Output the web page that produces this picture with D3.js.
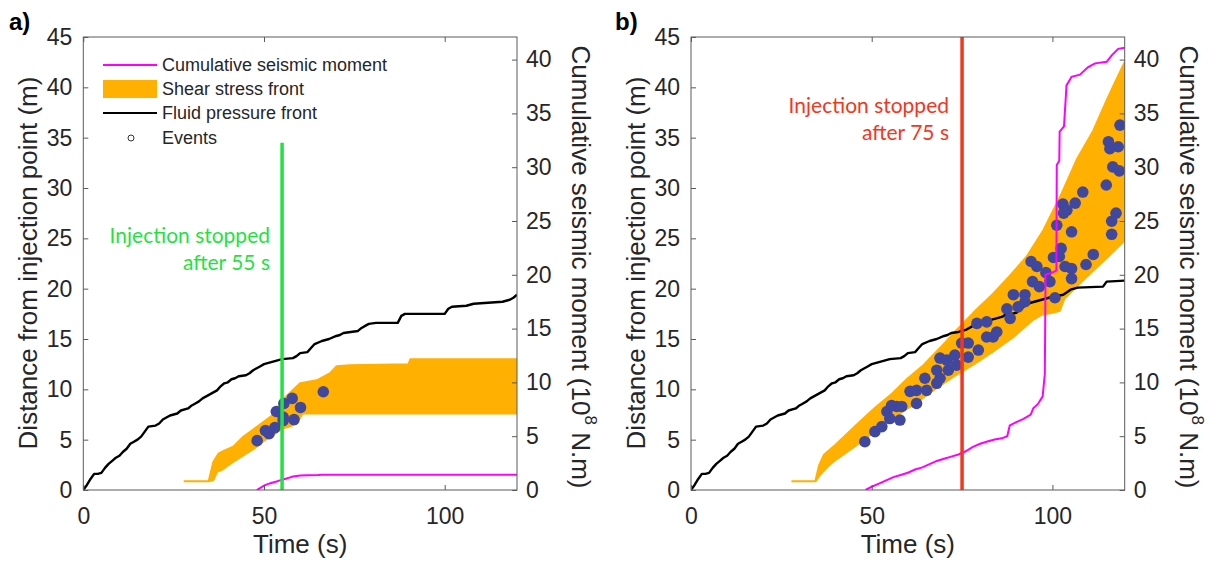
<!DOCTYPE html>
<html><head><meta charset="utf-8">
<script src="https://cdn.jsdelivr.net/npm/d3@7"></script>
<style>body{margin:0;background:#fff;} svg{display:block;}</style>
</head><body><svg id="c" width="1217" height="567"></svg>
<script>
// ---------- data ----------
const timeTicks = [0, 50, 100];
const distanceTicks = [0, 5, 10, 15, 20, 25, 30, 35, 40, 45];
const momentTicks = [0, 5, 10, 15, 20, 25, 30, 35, 40];
const legendLabels = ["Cumulative seismic moment", "Shear stress front", "Fluid pressure front", "Events"];
const annotationA = ["Injection stopped", "after 55 s"];
const annotationB = ["Injection stopped", "after 75 s"];
const stopTimeA = 55, stopTopA = 34.5;
const stopTimeB = 75, stopTopB = 45;

const fluidA = [[0,0],[1,0.5],[2,1.1],[3,1.6],[4,1.6],[5,1.7],[6,2.2],[7,2.6],[8,2.9],[9,3.2],[10,3.4],[11,3.8],[12,4.1],[13,4.6],[14,4.8],[15,5.0],[16,5.3],[17,5.8],[18,6.3],[20,6.4],[21,6.6],[22,7.0],[23,7.2],[24,7.4],[26,7.6],[27,7.9],[29,8.1],[30,8.4],[31,8.6],[32,8.8],[33,9.1],[34,9.3],[35,9.5],[36,9.7],[37,9.9],[38,10.3],[39,10.6],[40,10.7],[41,11.0],[42,11.1],[43,11.3],[45,11.4],[46,11.6],[47,11.9],[48,12.1],[49,12.3],[50,12.5],[51,12.6],[52,12.7],[53,12.8],[54,12.9],[55,13.0],[58,13.1],[59,13.3],[60,13.6],[62,13.7],[63,14.1],[64,14.5],[66,14.8],[68,15.0],[70,15.3],[71,15.4],[72,15.6],[74,15.7],[76,15.8],[77,16.1],[78,16.3],[79,16.5],[81,16.6],[87,16.6],[88,17.3],[89,17.5],[100,17.5],[101,18.0],[102,18.2],[106,18.3],[108,18.5],[112,18.6],[116,18.7],[118,18.9],[119,19.1],[120,19.4]];
const fluidB = [[0,0],[1,0.5],[2,1.1],[3,1.6],[4,1.6],[5,1.7],[6,2.2],[7,2.6],[8,2.9],[9,3.2],[10,3.4],[11,3.8],[12,4.1],[13,4.6],[14,4.8],[15,5.0],[16,5.3],[17,5.8],[18,6.3],[20,6.4],[21,6.6],[22,7.0],[23,7.2],[24,7.4],[26,7.6],[27,7.9],[29,8.1],[30,8.4],[31,8.6],[32,8.8],[33,9.1],[34,9.3],[35,9.5],[36,9.7],[37,9.9],[38,10.3],[39,10.6],[40,10.7],[41,11.0],[42,11.1],[43,11.3],[45,11.4],[46,11.6],[47,11.9],[48,12.1],[49,12.3],[50,12.5],[51,12.6],[52,12.7],[53,12.8],[54,12.9],[55,13.0],[58,13.1],[59,13.3],[60,13.6],[62,13.7],[63,14.1],[64,14.5],[66,14.8],[68,15.0],[70,15.3],[71,15.4],[72,15.6],[74,15.7],[76,15.9],[78,16.3],[79,16.6],[82,16.8],[84,17.0],[86,17.2],[87,17.4],[90,17.6],[92,18.2],[94,18.6],[96,18.8],[98,19.0],[100,19.2],[103,19.4],[105,19.9],[107,20.1],[114,20.2],[115,20.7],[120,20.8]];

const shearUpperA = [[28,0.86],[34.7,0.86],[36,2.8],[37.4,3.6],[39,3.9],[41.5,4.3],[44,5.2],[47,6.0],[50,6.8],[52.6,7.5],[55,8.9],[57,9.6],[60,10.6],[64.6,10.9],[68.3,11.6],[70.1,12.3],[73.8,12.4],[90,12.5],[90.5,13.0],[120,13.0]];
const shearLowerA = [[28,0.86],[34.7,0.86],[36,1.0],[37,1.8],[38.3,2.0],[41,2.7],[45,3.6],[48,4.3],[50,4.9],[53,5.6],[55,6.1],[57,6.3],[59,6.6],[60.5,7.5],[61,7.6],[120,7.6]];
const shearUpperB = [[28,0.86],[34.4,0.86],[35.5,2.5],[36.8,3.5],[40,4.5],[45.6,6.4],[51,8.2],[55.1,9.4],[60,11.1],[64.3,12.4],[68.9,14.1],[73.5,15.9],[78.1,17.6],[83.6,19.5],[88,21.2],[92.9,23.2],[97.5,25.8],[102.1,29.1],[106.7,32.8],[111.3,35.7],[115,38.7],[118,41],[120,42.5]];
const shearLowerB = [[28,0.86],[34.4,0.86],[35.7,1.5],[38,2.4],[40.1,3.0],[45.6,4.4],[51,5.9],[56.5,7.3],[62,8.6],[67.4,10.0],[72.8,11.3],[78.3,12.5],[83.7,13.8],[89.2,15.2],[94.6,16.9],[97,17.4],[100,17.6],[102,17.8],[103.3,19.0],[106.7,20.2],[111.3,21.8],[116,23.4],[120,24.8]];

const momentA = [[48,0],[49,0.2],[50,0.4],[51,0.55],[52,0.65],[53,0.75],[54,0.85],[55,0.95],[56,1.05],[57,1.15],[58,1.25],[59,1.3],[60,1.35],[62,1.38],[65,1.4],[66,1.42],[120,1.42]];
const momentB = [[48.3,0],[50,0.3],[52,0.6],[54,0.9],[56,1.2],[58,1.4],[60,1.6],[62,1.9],[64,2.1],[66,2.4],[68,2.7],[70,2.9],[72,3.1],[74,3.3],[76,3.6],[78,4.0],[80,4.3],[82,4.5],[84,4.7],[86,4.8],[87.5,5.0],[88.2,6.0],[90,6.3],[92,6.6],[94,7.0],[94.7,7.6],[96,8.0],[97.3,8.7],[97.9,10.8],[98.1,20.0],[100,20.2],[101.1,20.4],[101.2,30.2],[101.9,30.6],[102,33.3],[103.2,33.8],[103.9,37.6],[105.3,38.4],[107.6,38.6],[109.9,39.3],[111.8,39.65],[115,39.8],[116.4,40.4],[118.2,41.0],[120,41.1]];

const eventsA = [[48.1,4.9],[50.4,5.9],[51.4,5.6],[53,6.2],[53.4,7.8],[55.3,7.25],[55.5,8.6],[55.3,6.9],[57.8,9.1],[58.3,7.0],[60.1,8.2],[66.4,9.76]];
const eventsB = [[48.1,4.8],[50.9,5.8],[52.8,6.3],[54.2,7.8],[55.5,8.4],[55.0,7.1],[57.8,6.95],[56.9,8.3],[58.3,8.3],[60.6,9.8],[62.4,8.6],[62.4,9.9],[64.7,11.1],[65.2,9.9],[68,10.6],[68.9,11.1],[68,11.9],[68.9,13.1],[71.2,11.9],[70.8,12.9],[73,13.4],[73.5,12.4],[74.9,14.6],[76.7,14.6],[76.7,13.2],[79.1,16.55],[79.5,13.9],[81.8,16.7],[81.8,15.2],[83.6,15.2],[84.6,15.7],[87.4,18.0],[88.3,17.05],[89.2,19.4],[90.5,18.2],[92.4,19.4],[92.4,18.7],
[118.7,36.25],[115.5,34.6],[118.2,34.1],[115.9,33.9],[116.7,32.1],[118.5,31.7],[114.9,30.3],[108.4,29.6],[106.3,28.5],[102.9,28.4],[104,27.8],[103.1,27.5],[117.6,27.5],[116.4,26.7],[101.2,26.3],[105.3,25.65],[116.4,25.4],[102.4,24.0],[101.9,23.2],[111.3,23.4],[109.3,22.4],[94.1,22.7],[95.7,22.2],[103.5,22.2],[105.3,22.0],[100.3,23.1],[105.3,21.0],[98.2,21.6],[99.3,20.7],[94.5,20.7],[96.4,20.2],[100.7,19.1]];

// ---------- styles ----------
const ORANGE = "#ffb000", MAGENTA = "#ff00ff", DOT = "#3f479e";
const GREEN = "#1fe33f", RED = "#f4361c";
const SANS = "'Liberation Sans', Arial, Helvetica, sans-serif";
const TEXT = "#262626";
const svg = d3.select("#c");
svg.append("rect").attr("width",1217).attr("height",567).attr("fill","#fff");

function drawPanel(cfg) {
  const top = 37, bottom = 490;
  const x = d3.scaleLinear().domain([0,120]).range([cfg.left, cfg.right]);
  const y = d3.scaleLinear().domain([0,45]).range([bottom, top]);
  const yR = d3.scaleLinear().domain([0,42.1]).range([bottom, top]);
  const g = svg.append("g");
  const clipId = "clip" + cfg.id;
  svg.append("clipPath").attr("id", clipId).append("rect")
    .attr("x", cfg.left).attr("y", top).attr("width", cfg.right-cfg.left).attr("height", bottom-top);
  const plot = g.append("g").attr("clip-path", `url(#${clipId})`);

  const poly = cfg.upper.concat(cfg.lower.slice().reverse());
  plot.append("path")
    .attr("d", d3.line().x(d=>x(d[0])).y(d=>y(d[1]))(poly) + "Z")
    .attr("fill", ORANGE).attr("stroke", ORANGE).attr("stroke-width", 2).attr("stroke-linejoin","round");

  plot.append("path")
    .attr("d", d3.line().x(d=>x(d[0])).y(d=>y(d[1]))(cfg.fluid))
    .attr("fill","none").attr("stroke","#000").attr("stroke-width",2.4).attr("stroke-linejoin","round");

  plot.selectAll("circle.ev").data(cfg.events).enter().append("circle")
    .attr("cx", d=>x(d[0])).attr("cy", d=>y(d[1])).attr("r", 5.8).attr("fill", DOT);

  plot.append("path")
    .attr("d", d3.line().x(d=>x(d[0])).y(d=>yR(d[1]))(cfg.moment))
    .attr("fill","none").attr("stroke",MAGENTA).attr("stroke-width",2);

  g.append("line").attr("x1", x(cfg.stopT)).attr("x2", x(cfg.stopT))
    .attr("y1", y(0)).attr("y2", y(cfg.stopTop))
    .attr("stroke", cfg.stopColor).attr("stroke-width", 3.5);
  const ann = g.append("text").attr("font-family","Lato, 'Open Sans', sans-serif").attr("font-size",21)
    .attr("fill", cfg.stopColor).attr("text-anchor","end");
  cfg.annotation.forEach((s,i)=>{
    ann.append("tspan").attr("x", cfg.annX).attr("y", cfg.annY + i*26.5).text(s);
  });

  g.append("rect").attr("x", cfg.left).attr("y", top).attr("width", cfg.right-cfg.left).attr("height", bottom-top)
    .attr("fill","none").attr("stroke","#5a5a5a").attr("stroke-width",1);

  function style(sel){
    sel.select(".domain").remove();
    sel.selectAll(".tick line").attr("stroke","#5a5a5a");
    sel.selectAll(".tick text").attr("fill",TEXT).attr("font-family",SANS).attr("font-size",23);
  }
  g.append("g").attr("transform",`translate(${cfg.left},0)`)
    .call(d3.axisLeft(y).tickValues(distanceTicks).tickSize(-5).tickPadding(11)).call(style);
  g.append("g").attr("transform",`translate(${cfg.right},0)`)
    .call(d3.axisRight(yR).tickValues(momentTicks).tickSize(-5).tickPadding(9)).call(style);
  g.append("g").attr("transform",`translate(0,${bottom})`)
    .call(d3.axisBottom(x).tickValues(timeTicks).tickSize(-5).tickPadding(18)).call(style);
  g.append("g").attr("transform",`translate(0,${top})`)
    .call(d3.axisTop(x).tickValues(timeTicks).tickSize(-5).tickFormat("")).call(style);

  g.append("text").attr("x",(cfg.left+cfg.right)/2).attr("y",553).attr("text-anchor","middle")
    .attr("font-family",SANS).attr("font-size",26).attr("fill",TEXT).text("Time (s)");
  g.append("text").attr("transform",`translate(${cfg.left-55},${263}) rotate(-90)`).attr("text-anchor","middle")
    .attr("dy","0.35em").attr("font-family",SANS).attr("font-size",26).attr("fill",TEXT)
    .text("Distance from injection point (m)");
  const rt = g.append("text").attr("transform",`translate(${cfg.right+64},${267}) rotate(90)`).attr("text-anchor","middle")
    .attr("dy","0.35em").attr("font-family",SANS).attr("font-size",26).attr("fill",TEXT);
  rt.append("tspan").text("Cumulative seismic moment (10");
  rt.append("tspan").attr("font-size",17).attr("dy","-0.75em").text("8");
  rt.append("tspan").attr("dy","0.48em").text(" N.m)");

  g.append("text").attr("x", cfg.labelX).attr("y", 30).attr("font-family",SANS).attr("font-weight","bold")
    .attr("font-size",24).attr("fill","#000").text(cfg.label);
}

drawPanel({id:"a", left:83.3, right:517, fluid:fluidA, upper:shearUpperA, lower:shearLowerA,
  moment:momentA, events:eventsA, stopT:stopTimeA, stopTop:stopTopA, stopColor:GREEN,
  annotation:annotationA, annX:270, annY:243, label:"a)", labelX:9});
drawPanel({id:"b", left:691, right:1124.7, fluid:fluidB, upper:shearUpperB, lower:shearLowerB,
  moment:momentB, events:eventsB, stopT:stopTimeB, stopTop:stopTopB, stopColor:RED,
  annotation:annotationB, annX:949, annY:113, label:"b)", labelX:615});

const lg = svg.append("g").attr("font-family",SANS).attr("font-size",18).attr("fill",TEXT);
const rowY = [65, 89, 113, 138];
lg.append("line").attr("x1",103).attr("x2",157).attr("y1",rowY[0]).attr("y2",rowY[0]).attr("stroke",MAGENTA).attr("stroke-width",2);
lg.append("rect").attr("x",103).attr("y",rowY[1]-9).attr("width",54).attr("height",18).attr("fill",ORANGE);
lg.append("line").attr("x1",103).attr("x2",157).attr("y1",rowY[2]).attr("y2",rowY[2]).attr("stroke","#000").attr("stroke-width",2);
lg.append("circle").attr("cx",131).attr("cy",rowY[3]).attr("r",3).attr("fill","none").attr("stroke","#333").attr("stroke-width",1);
legendLabels.forEach((s,i)=>{
  lg.append("text").attr("x",162).attr("y",rowY[i]).attr("dy","0.35em").text(s);
});
</script>
</body></html>
